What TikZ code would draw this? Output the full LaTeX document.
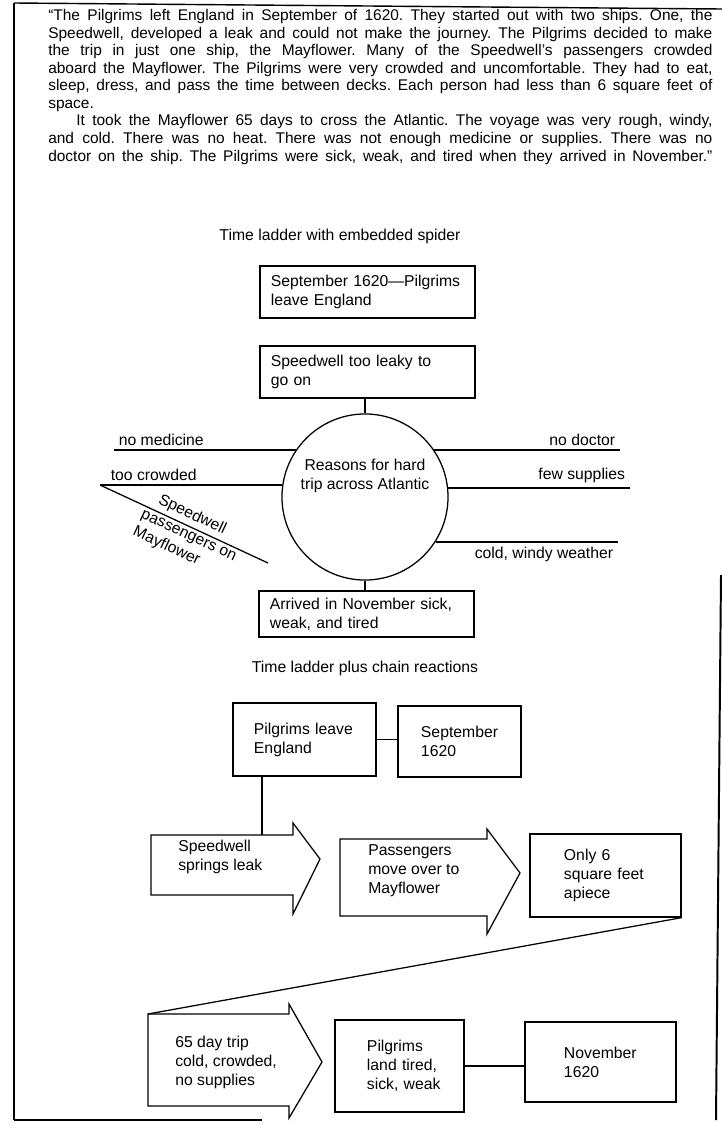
\documentclass[tikz,border=0pt]{standalone}
\usepackage{fontspec}
\setmainfont{Liberation Sans}
\usetikzlibrary{positioning}
\newcommand{\diagfont}{\fontsize{11.2}{13.5}\selectfont}
\frenchspacing

\begin{document}
\begin{tikzpicture}[x=0.025cm,y=-0.025cm,
    ladderbox/.style={draw,line width=0.9pt,align=left,font=\diagfont,inner ysep=2pt},
    chainarrow/.style={draw,line width=0.9pt,line join=miter},
    spiderleg/.style={line width=0.9pt},
    legtext/.style={font=\diagfont,inner sep=3pt},
    chaintext/.style={font=\diagfont,align=left,inner sep=0pt},
    heading/.style={font=\diagfont}]
  \fill[white] (0,0) rectangle (722,1125);
  \useasboundingbox (0,0) rectangle (722,1125);

  % page frame
  \draw[line width=1.8pt] (14,3) -- (14,1120);
  \draw[line width=1pt] (14,3) -- (722,9);
  \draw[line width=1.4pt] (721,575) -- (716,1120);
  \draw[line width=1.2pt] (14,1120) -- (262,1120);

  % quoted passage
  \node[anchor=north west,text width=16.6cm,align=justify,inner sep=0pt,
        font=\fontsize{11}{12.5}\selectfont] (passage) at (48,9) {%
    \parindent=0pt
    “The Pilgrims left England in September of 1620. They started out with two ships. One, the\linebreak
    Speedwell, developed a leak and could not make the journey. The Pilgrims decided to make\linebreak
    the trip in just one ship, the Mayflower. Many of the Speedwell’s passengers crowded\linebreak
    aboard the Mayflower. The Pilgrims were very crowded and uncomfortable. They had to eat,\linebreak
    sleep, dress, and pass the time between decks. Each person had less than 6 square feet of\linebreak
    space.\par
    \parfillskip=0pt
    \hspace*{20pt}It took the Mayflower 65 days to cross the Atlantic. The voyage was very rough, windy,\linebreak
    and cold. There was no heat. There was not enough medicine or supplies. There was no\linebreak
    doctor on the ship. The Pilgrims were sick, weak, and tired when they arrived in November.”\par};

  % time ladder with embedded spider
  \node[heading] (spidertitle) at (340,236) {Time ladder with embedded spider};
  \node[ladderbox,text width=4.825cm,inner xsep=0.275cm,minimum height=1.3cm] (sept) at (367.5,292)
    {September 1620—Pilgrims\\leave England};
  \node[ladderbox,text width=4.825cm,inner xsep=0.275cm,minimum height=1.3cm] (leaky) at (367.5,372)
    {Speedwell too leaky to\\go on};
  \node[draw,circle,line width=0.9pt,minimum size=4.15cm] (reasons) at (365,497) {};
  \node[font=\diagfont,align=center] (reasonstext) at (365,476) {Reasons for hard\\trip across Atlantic};
  \node[ladderbox,text width=4.825cm,inner xsep=0.275cm,minimum height=1.15cm] (arrived) at (366.5,614)
    {Arrived in November sick,\\weak, and tired};
  \draw[spiderleg] (reasons.north |- leaky.south) -- (reasons.north);
  \draw[spiderleg] (reasons.south) -- (reasons.south |- arrived.north);

  \coordinate (medicine) at (114,450);
  \coordinate (doctor) at (620,450);
  \coordinate (crowded) at (100,485);
  \coordinate (supplies) at (630,488);
  \coordinate (weather) at (618,542);
  \coordinate (mayflower) at (268,563);
  \draw[spiderleg] (medicine) node[legtext,above right] (medicinelabel) {no medicine}
    -- (medicine -| reasons.145.75);
  \draw[spiderleg] (doctor) node[legtext,above left] (doctorlabel) {no doctor}
    -- (doctor -| reasons.34.25);
  \draw[spiderleg] (crowded) node[legtext,above right,xshift=0.15cm] (crowdedlabel) {too crowded}
    -- (crowded -| reasons.171.74);
  \draw[spiderleg] (supplies) node[legtext,above left] (supplieslabel) {few supplies}
    -- (supplies -| reasons.6.19);
  \draw[spiderleg] (weather) node[legtext,below left] (weatherlabel) {cold, windy weather}
    -- (weather -| reasons.-32.6);
  \draw[spiderleg] (crowded) -- (mayflower)
    node[pos=0.52,sloped,above,legtext,inner sep=2.5pt] (speedwelllabel) {Speedwell}
    node[pos=0.55,sloped,below,legtext,align=left,inner sep=2.5pt] (passengerlabel) {passengers on\\Mayflower};

  % time ladder plus chain reactions
  \node[heading] (chaintitle) at (365,668) {Time ladder plus chain reactions};
  \node[ladderbox,text width=2.525cm,inner xsep=0.525cm,minimum height=1.825cm] (leave) at (304.5,739.5)
    {Pilgrims~leave\\England};
  \node[ladderbox,text width=1.925cm,inner xsep=0.575cm,minimum height=1.775cm] (september) at (459.5,741.5)
    {September\\1620};
  \draw[spiderleg] (leave.east) -- (leave.east -| september.west);
  \coordinate (leaktop) at (262,835);
  \draw[spiderleg] (leaktop |- leave.south) -- (leaktop);

  \draw[chainarrow] (151,835) -- (293,835) -- (293,823) -- (320,859) -- (293,914) -- (293,895) -- (151,895) -- cycle;
  \node[chaintext,anchor=west] (leak) at (178,857) {Speedwell\\springs leak};
  \draw[chainarrow] (340,839) -- (487,839) -- (487,829) -- (520,873) -- (487,934) -- (487,916) -- (340,916) -- cycle;
  \node[chaintext,anchor=west] (passengers) at (368,871) {Passengers\\move over to\\Mayflower};
  \node[ladderbox,text width=2.075cm,inner xsep=0.85cm,minimum height=2.075cm] (apiece) at (605.5,875.5)
    {Only 6\\square~feet\\apiece};

  \coordinate (triptop) at (148,1014);
  \draw[spiderleg] (apiece.south east) -- (triptop);
  \draw[chainarrow] (148,1014) -- (289,1014) -- (289,1004) -- (322,1062) -- (289,1118) -- (289,1106) -- (148,1106) -- cycle;
  \node[chaintext,anchor=west] (trip) at (175,1062) {65 day trip\\cold, crowded,\\no supplies};
  \node[ladderbox,text width=1.625cm,inner xsep=0.8cm,minimum height=2.3cm] (landing) at (399.5,1066)
    {Pilgrims\\land~tired,\\sick,~weak};
  \node[ladderbox,text width=1.825cm,inner xsep=0.975cm,minimum height=2.0cm] (november) at (600.5,1062)
    {November\\1620};
  \draw[spiderleg] (landing.east) -- (landing.east -| november.west);
\end{tikzpicture}
\end{document}
